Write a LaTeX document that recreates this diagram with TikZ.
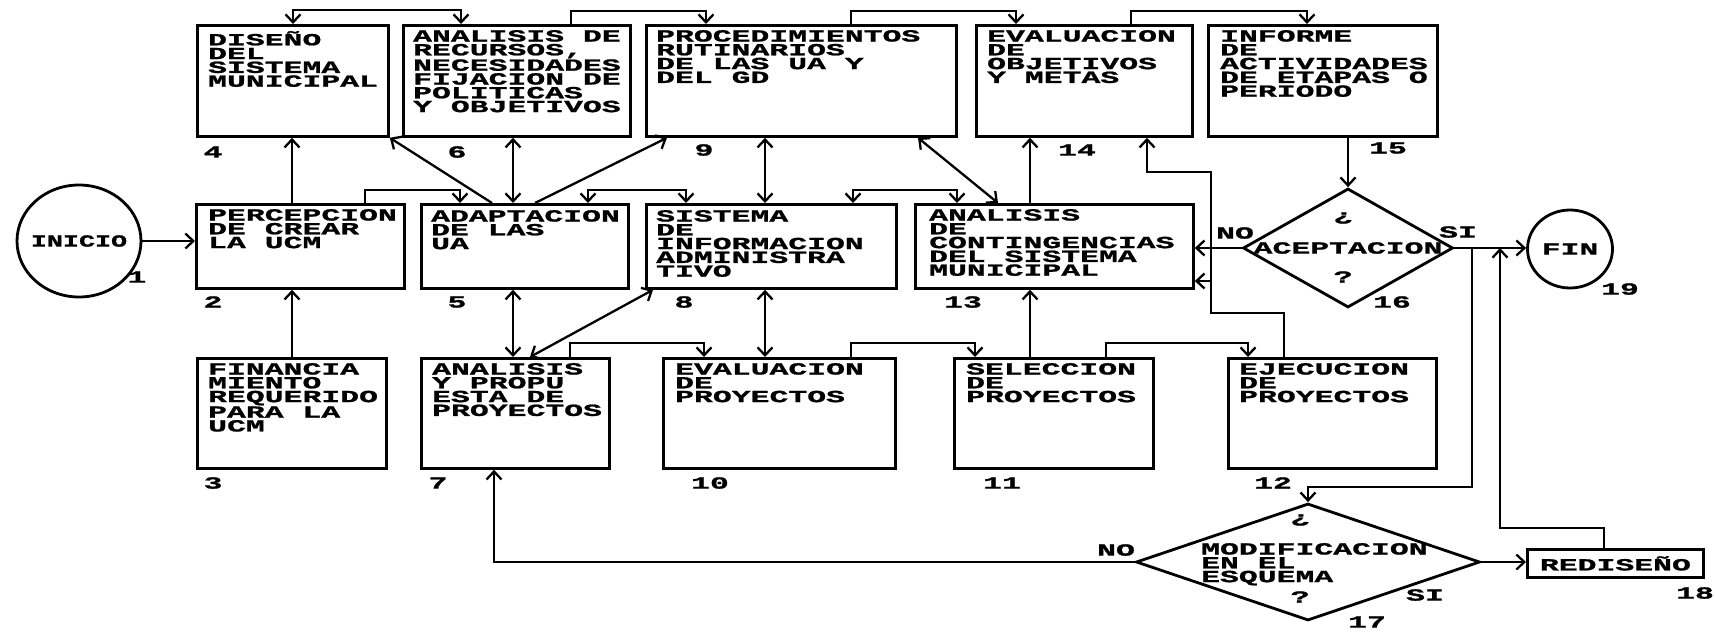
\documentclass[tikz,border=0pt]{standalone}
\usepackage{fontspec}
\newfontfamily\dotmono{Liberation Mono}[FakeStretch=1.85,FakeBold=1.2]
\usetikzlibrary{arrows.meta,shapes.geometric}
\newcommand\letra{\dotmono\bfseries\fontsize{17}{13.8}\selectfont}
\tikzset{
  caja/.style={draw, line width=2.8pt, inner sep=0pt, anchor=north west},
  rotulo/.style={anchor=north west, inner sep=0pt, align=left, font=\letra,
    execute at begin node={\rule{0pt}{14pt}}},
  num/.style={inner sep=0pt, font=\letra},
  rombo/.style={draw, diamond, line width=2.8pt, inner sep=0pt},
  ovalo/.style={draw, ellipse, line width=2.8pt, inner sep=0pt}
}
\begin{document}
\begin{tikzpicture}[x=1pt, y=-1pt, line width=2.3pt, >={Straight Barb[length=8pt,width=15pt]}]
    \useasboundingbox (0,0) rectangle (1715,635);

    % inicio y fin
    \node[ovalo, minimum width=124, minimum height=112] (ini) at (79,241) {};
    \node[num] (tini) at (ini.center) {\scalebox{0.85}[1]{INICIO}};
    \node[ovalo, minimum width=85, minimum height=78] (fin) at (1570,249) {};
    \node[num] (tfin) at (fin.center) {FIN};

    % cajas
    \node[caja, minimum width=208, minimum height=84]  (b2)  at (195,203)  {};
    \node[caja, minimum width=189, minimum height=110] (b3)  at (196,357)  {};
    \node[caja, minimum width=191, minimum height=111] (b4)  at (196,24)   {};
    \node[caja, minimum width=207, minimum height=84]  (b5)  at (420,203)  {};
    \node[caja, minimum width=227, minimum height=111] (b6)  at (402,24)   {};
    \node[caja, minimum width=188, minimum height=110] (b7)  at (420,357)  {};
    \node[caja, minimum width=250, minimum height=84]  (b8)  at (645,203)  {};
    \node[caja, minimum width=310, minimum height=111] (b9)  at (645,24)   {};
    \node[caja, minimum width=232, minimum height=110] (b10) at (662,357)  {};
    \node[caja, minimum width=199, minimum height=110] (b11) at (953,357)  {};
    \node[caja, minimum width=208, minimum height=110] (b12) at (1227,357) {};
    \node[caja, minimum width=278, minimum height=84]  (b13) at (914,203)  {};
    \node[caja, minimum width=216, minimum height=111] (b14) at (975,24)   {};
    \node[caja, minimum width=229, minimum height=111] (b15) at (1207,24)  {};
    \node[caja, minimum width=176, minimum height=28, font=\letra] (b18) at (1526,548) {REDISEÑO};

    % textos de las cajas
    \node[rotulo] (t2)  at ([xshift=12pt,yshift=-5pt]b2.north west)  {PERCEPCION\\DE CREAR\\LA UCM};
    \node[rotulo] (t3)  at ([xshift=11pt,yshift=-5pt]b3.north west)  {FINANCIA\\MIENTO\\REQUERIDO\\PARA LA\\UCM};
    \node[rotulo] (t4)  at ([xshift=11pt,yshift=-6pt]b4.north west)  {DISEÑO\\DEL\\SISTEMA\\MUNICIPAL};
    \node[rotulo] (t5)  at ([xshift=10pt,yshift=-6pt]b5.north west)  {ADAPTACION\\DE LAS\\UA};
    \node[rotulo] (t6)  at ([xshift=10pt,yshift=-5pt]b6.north west)  {ANALISIS DE\\RECURSOS,\\NECESIDADES\\FIJACION DE\\POLITICAS\\Y OBJETIVOS};
    \node[rotulo] (t7)  at ([xshift=11pt,yshift=-5pt]b7.north west)  {ANALISIS\\Y PROPU\\ESTA DE\\PROYECTOS};
    \node[rotulo] (t8)  at ([xshift=10pt,yshift=-6pt]b8.north west)  {SISTEMA\\DE\\INFORMACION\\ADMINISTRA\\TIVO};
    \node[rotulo] (t9)  at ([xshift=10pt,yshift=-5pt]b9.north west)  {PROCEDIMIENTOS\\RUTINARIOS\\DE LAS UA Y\\DEL GD};
    \node[rotulo] (t10) at ([xshift=12pt,yshift=-5pt]b10.north west) {EVALUACION\\DE\\PROYECTOS};
    \node[rotulo] (t11) at ([xshift=12pt,yshift=-5pt]b11.north west) {SELECCION\\DE\\PROYECTOS};
    \node[rotulo] (t12) at ([xshift=11pt,yshift=-5pt]b12.north west) {EJECUCION\\DE\\PROYECTOS};
    \node[rotulo] (t13) at ([xshift=14pt,yshift=-5pt]b13.north west) {ANALISIS\\DE\\CONTINGENCIAS\\DEL SISTEMA\\MUNICIPAL};
    \node[rotulo] (t14) at ([xshift=11pt,yshift=-5pt]b14.north west) {EVALUACION\\DE\\OBJETIVOS\\Y METAS};
    \node[rotulo] (t15) at ([xshift=12pt,yshift=-5pt]b15.north west) {INFORME\\DE\\ACTIVIDADES\\DE ETAPAS O\\PERIODO};

    % decisiones
    \node[rombo, minimum width=210, minimum height=119] (d16) at (1348,248) {};
    \node[num] (q16) at (1343,218) {¿};
    \node[num] (t16) at (1348,248) {ACEPTACION};
    \node[num] (e16) at (1343,277) {?};
    \node[rombo, minimum width=344, minimum height=117] (d17) at (1308,562) {};
    \node[num] (q17) at (1300,520) {¿};
    \node[rotulo] (t17) at (1200,542) {MODIFICACION\\EN EL\\ESQUEMA};
    \node[num] (e17) at (1300,597) {?};

    % numeros
    \node[num] (n1)  at (137,277)  {1};
    \node[num] (n2)  at (213,302)  {2};
    \node[num] (n3)  at (213,483)  {3};
    \node[num] (n4)  at (213,152)  {4};
    \node[num] (n5)  at (457,302)  {5};
    \node[num] (n6)  at (457,152)  {6};
    \node[num] (n7)  at (438,483)  {7};
    \node[num] (n8)  at (684,302)  {8};
    \node[num] (n9)  at (704,150)  {9};
    \node[num] (n10) at (710,483)  {10};
    \node[num] (n11) at (1002,483) {11};
    \node[num] (n12) at (1273,483) {12};
    \node[num] (n13) at (963,302)  {13};
    \node[num] (n14) at (1077,150) {14};
    \node[num] (n15) at (1388,148) {15};
    \node[num] (n16) at (1392,302) {16};
    \node[num] (n17) at (1367,622) {17};
    \node[num] (n18) at (1695,593) {18};
    \node[num] (n19) at (1620,289) {19};

    % si / no
    \node[num] (no16) at (1235,233) {NO};
    \node[num] (si16) at (1458,232) {SI};
    \node[num] (no17) at (1116,550) {NO};
    \node[num] (si17) at (1425,595) {SI};

    \coordinate (jn) at (1211,281);

    % conexiones
    \draw[->] (ini.east) -- (ini.east -| b2.west);
    \draw[->] (b2.north -| 292,0) -- (b4.south -| 292,0);
    \draw[->] (b3.north -| 292,0) -- (b2.south -| 292,0);
    \draw[<->] (b4.north -| 293,0) -- (293,10) -| (b6.north -| 461,0);
    \draw[->] (b6.north -| 571,0) -- (571,11) -| (b9.north -| 706,0);
    \draw[->] (b9.north -| 851,0) -- (851,11) -| (b14.north -| 1016,0);
    \draw[->] (b14.north -| 1131,0) -- (1131,11) -| (b15.north -| 1307,0);
    \draw[->] (b2.north -| 365,0) -- (365,190) -| (b5.north -| 460,0);
    \draw[<->] (b5.north -| 588,0) -- (588,190) -| (b8.north -| 686,0);
    \draw[<->] (b8.north -| 853,0) -- (853,190) -| (b13.north -| 957,0);
    \draw[->] (b5.north -| 492,0) -- (b4.south east);
    \draw[<->] (b6.south -| 513,0) -- (b5.north -| 513,0);
    \draw[->] (b5.north -| 535,0) -- (b9.south -| 667,0);
    \draw[<->] (b9.south -| 765,0) -- (b8.north -| 765,0);
    \draw[<->] (b9.south -| 918,0) -- (b13.north -| 998,0);
    \draw[->] (b13.north -| 1030,0) -- (b14.south -| 1030,0);
    \draw[<->] (b5.south -| 513,0) -- (b7.north -| 513,0);
    \draw[<->] (b7.north -| 530,0) -- (b8.south -| 653,0);
    \draw[<->] (b8.south -| 765,0) -- (b10.north -| 765,0);
    \draw[->] (b7.north -| 570,0) -- (570,343) -| (b10.north -| 704,0);
    \draw[->] (b10.north -| 851,0) -- (851,343) -| (b11.north -| 975,0);
    \draw[->] (b11.north -| 1106,0) -- (1106,343) -| (b12.north -| 1248,0);
    \draw[->] (b11.north -| 1030,0) -- (b13.south -| 1030,0);
    \draw[->] (b12.north -| 1284,0) |- (1211,313) |- (1147,172) -- (b14.south -| 1147,0);
    \draw[->] (jn) -- (jn -| b13.east);
    \draw[->] (b15.south -| d16.north) -- (d16.north);
    \draw[->] (d16.west) -- (d16.west -| b13.east);
    \draw[->] (d16.east) -- (d16.east -| fin.west);
    \draw[->] (d16.east -| 1472,0) |- ([yshift=15pt]d17.north) -- (d17.north);
    \draw[->] (d17.east) -- (d17.east -| b18.west);
    \draw[->] (d17.west) -| (b7.south -| 494,0);
    \draw[->] (b18.north -| 1604,0) |- (1500,528) -- (d16.east -| 1500,0);
\end{tikzpicture}
\end{document}
